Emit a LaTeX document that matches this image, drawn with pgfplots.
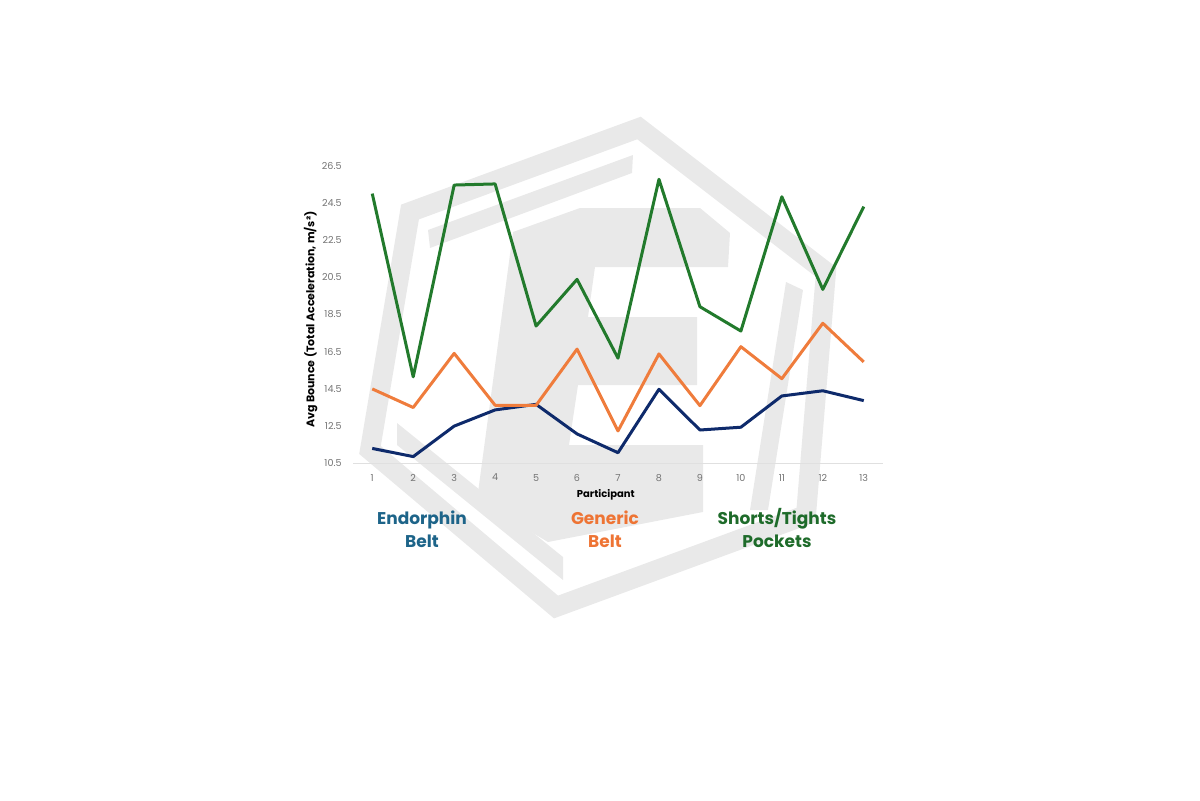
\documentclass[border=0pt]{standalone}
\usepackage{fontspec}
\setmainfont{Poppins}
\usepackage{pgfplots}
\pgfplotsset{compat=1.18}
\usepackage{pgfplotstable}
\definecolor{wm}{RGB}{233,233,233}
\definecolor{cgreen}{RGB}{34,122,44}
\definecolor{corange}{RGB}{239,124,60}
\definecolor{cnavy}{RGB}{14,42,107}
\definecolor{tblue}{RGB}{29,100,137}
\definecolor{tgreen}{RGB}{30,107,42}
\definecolor{torange}{RGB}{238,116,52}
\pgfplotstableread{
p endorphin generic shorts
1  11.30 14.50 25.00
2  10.86 13.50 15.15
3  12.50 16.41 25.46
4  13.37 13.62 25.52
5  13.67 13.62 17.88
6  12.08 16.64 20.39
7  11.07 12.24 16.15
8  14.48 16.38 25.77
9  12.29 13.60 18.92
10 12.44 16.77 17.61
11 14.12 15.05 24.83
12 14.40 18.03 19.85
13 13.87 15.95 24.30
}\datatable
\begin{document}
\begin{tikzpicture}
\path[use as bounding box] (0,0) rectangle (600pt,400pt);
% watermark (pixel coordinates)
\begin{scope}[x=0.5pt,y=-0.5pt,shift={(0pt,400pt)}]
\draw[wm,line width=10pt,line join=miter] (639,128) -- (826,272) -- (806,515) -- (556,607) -- (370,450) -- (410,212) -- cycle;
\fill[wm] (428,230) -- (633,155) -- (632,173) -- (430,248) -- cycle;
\fill[wm] (397,423) -- (563,557) -- (563,580) -- (397,445) -- cycle;
\fill[wm] (786,282) -- (803,290) -- (768,510) -- (750,510) -- cycle;
\fill[wm] (513,232) -- (580,208) -- (700,208) -- (730,233) -- (728,267) -- (595,267) -- (588,317) -- (697,317) -- (697,385) -- (578,385) -- (569,445) -- (703,445) -- (703,512) -- (548,542) -- (477,500) -- cycle;
\end{scope}
\begin{axis}[
  at={(176.5pt,168.35pt)}, anchor=south west,
  scale only axis, width=265pt, height=148.8pt,
  xmin=0.53, xmax=13.47, ymin=10.5, ymax=26.5,
  axis x line=bottom, axis y line=left,
  x axis line style={-, draw=black!12, line width=0.6pt},
  y axis line style={draw=none},
  xtick={1,2,3,4,5,6,7,8,9,10,11,12,13},
  xticklabels={1,2,3,4,5,6,7,8,9,10,11,12,13},
  ytick={10.5,12.5,14.5,16.5,18.5,20.5,22.5,24.5,26.5},
  yticklabels={10.5,12.5,14.5,16.5,18.5,20.5,22.5,24.5,26.5},
  major tick length=0pt,
  /pgf/number format/assume math mode=true,
  tick label style={font=\fontsize{4.8}{5}\selectfont, text=black!55, inner sep=0pt},
  yticklabel style={anchor=east, xshift=-5.5pt},
  xticklabel style={anchor=north, yshift=-5.2pt},
  xlabel={Participant},
  ylabel={Avg Bounce (Total Acceleration, m/s²)},
  xlabel style={font=\fontsize{5}{6}\selectfont\bfseries, at={(axis description cs:0.477,-0.1065)}, anchor=center},
  ylabel style={font=\fontsize{5.5}{6}\selectfont\bfseries, at={(axis description cs:-0.080,0.483)}, anchor=center, rotate=0},
  clip=false,
]
\addplot[cnavy, line width=1.5pt, line join=round] table[x=p, y=endorphin] {\datatable};
\addplot[corange, line width=1.5pt, line join=round] table[x=p, y=generic] {\datatable};
\addplot[cgreen, line width=1.5pt, line join=round] table[x=p, y=shorts] {\datatable};
\end{axis}
\begin{scope}[x=0.5pt,y=-0.5pt,shift={(0pt,400pt)}]
\node[align=center, font=\fontsize{8.5}{11.5}\selectfont\bfseries, text=tblue] at (422,529.5) {Endorphin\\Belt};
\node[align=center, font=\fontsize{8.5}{11.5}\selectfont\bfseries, text=torange] at (605,529.5) {Generic\\Belt};
\node[align=center, font=\fontsize{8.5}{11.5}\selectfont\bfseries, text=tgreen] at (777,528) {Shorts/Tights\\Pockets};
\end{scope}
\end{tikzpicture}
\end{document}
